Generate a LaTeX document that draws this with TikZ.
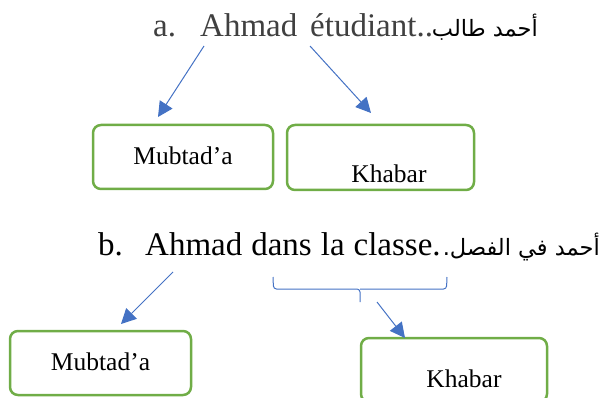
\documentclass[tikz,border=0pt]{standalone}
\usepackage{fontspec}
\setmainfont{Liberation Serif}
\newfontfamily\arabicfont[Script=Arabic]{DejaVu Sans}
\TeXXeTstate=1
\usetikzlibrary{arrows.meta}

\definecolor{boxgreen}{HTML}{70AD47}
\definecolor{linkblue}{HTML}{4472C4}

\begin{document}
\begin{tikzpicture}[x=1pt,y=-1pt,>={Triangle[length=15pt,width=15pt]},
                    line join=round]
  \tikzstyle{every node}=[inner sep=0pt]
  \tikzstyle{word}=[anchor=base west,font=\fontsize{33}{40}\selectfont]
  \tikzstyle{arab}=[anchor=base east,font=\fontsize{22.5}{28}\selectfont\arabicfont]
  \tikzstyle{box}=[draw=boxgreen,line width=2.5pt,rounded corners=8pt]
  \tikzstyle{boxtext}=[anchor=base,font=\fontsize{25.5}{30}\selectfont]
  \tikzstyle{link}=[draw=linkblue,line width=1pt,->]

  \useasboundingbox (0,0) rectangle (602,398);

  % sentence a
  \node[word,text=black!75] (la)     at (153,37) {a.};
  \node[word,text=black!75] (ahmadA) at (200,37) {Ahmad};
  \node[word,text=black!75] (etud)   at (310,37) {étudiant..};
  \node[arab] (arA) at (538,37) {\beginR أحمد طالب\endR};

  \node[box,minimum width=180,minimum height=64] (mubA) at (183,157) {};
  \node[box,minimum width=187,minimum height=65] (khaA) at (380.5,157.5) {};
  \node[boxtext] (mubAtext) at (183,165) {Mubtad’a};
  \node[boxtext] (khaAtext) at (389,183) {Khabar};

  \coordinate (fromAhmadA) at (204,46);
  \coordinate (fromEtud)   at (310,46);
  \coordinate (toMubA)     at (158,117);
  \coordinate (toKhaA)     at (371,113);

  \path[link] (fromAhmadA) -- (toMubA);
  \path[link] (fromEtud)   -- (toKhaA);

  % sentence b
  \node[word] (lb)     at (98,255)  {b.};
  \node[word] (ahmadB) at (145,255)
    {Ahmad\hspace{9pt}dans\hspace{9pt}la\hspace{9pt}classe.};
  \node[arab] (arB)    at (600,255) {\beginR أحمد في الفصل.\endR};

  \node[box,minimum width=181,minimum height=64] (mubB) at (100.5,363) {};
  \node[box,minimum width=186,minimum height=64] (khaB) at (454,370) {};
  \node[boxtext] (mubBtext) at (100.5,370) {Mubtad’a};
  \node[boxtext] (khaBtext) at (464,387) {Khabar};

  \coordinate (fromAhmadB) at (173,272);
  \coordinate (fromBrace)  at (377,302);
  \coordinate (toMubB)     at (121,324);
  \coordinate (toKhaB)     at (405,338);

  \draw[draw=linkblue,line width=1pt,rounded corners=3pt]
    (273,277) -- (273.5,289) -- (360,289) -- (360,302)
    (360,289) -- (446.5,289) -- (447,277);

  \path[link] (fromAhmadB) -- (toMubB);
  \path[link] (fromBrace)  -- (toKhaB);
\end{tikzpicture}
\end{document}
